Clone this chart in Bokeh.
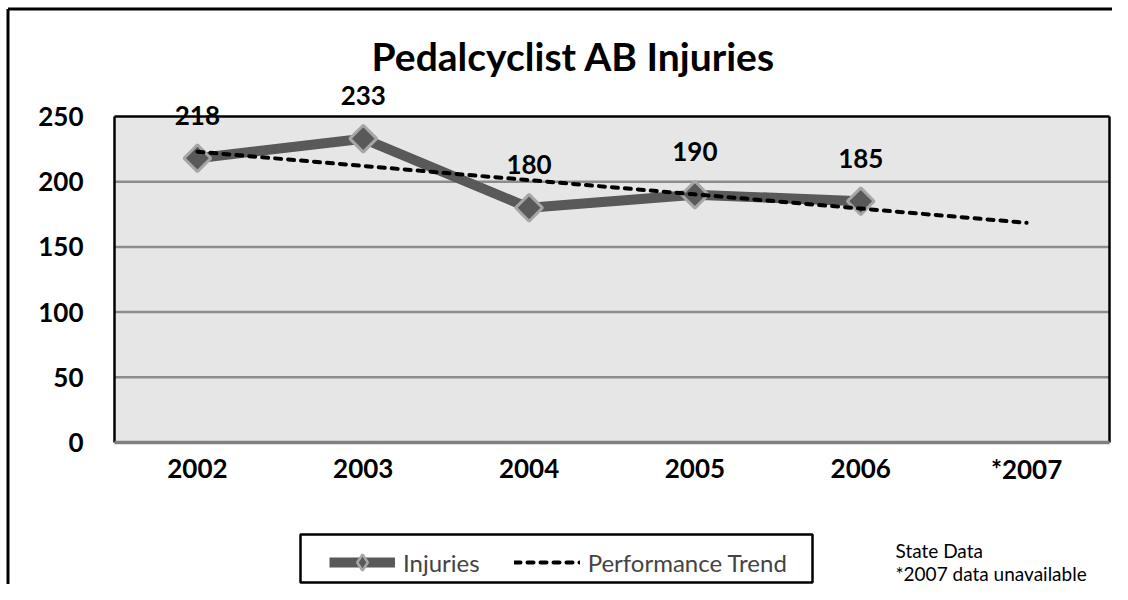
import math
from bokeh.plotting import figure
from bokeh.models import (ColumnDataSource, Range1d, LabelSet, Label,
                          Legend, LegendItem)
from bokeh.core.properties import value
from bokeh.embed import file_html
from bokeh.resources import INLINE

years = ["2002", "2003", "2004", "2005", "2006", "*2007"]
injury_years = ["2002", "2003", "2004", "2005", "2006"]
injuries = [218, 233, 180, 190, 185]
trend = [223.0, 212.1, 201.2, 190.3, 179.4, 168.5]
y_ticks = [0, 50, 100, 150, 200, 250]

FONT = "Lato"
W, H = 1112, 584
# plot area in canvas pixels
PL, PR, PT, PB = 114, 1109, 116, 442
YMAX = 250
n = len(years)
sx = (PR - PL) / n
sy = (PB - PT) / YMAX

p = figure(width=W, height=H, output_backend="svg", toolbar_location=None,
           x_range=Range1d(-PL / sx, n + (W - PR) / sx),
           y_range=Range1d(-(H - PB) / sy, YMAX + PT / sy),
           min_border=0)
p.axis.visible = False
p.grid.visible = False
p.outline_line_color = None
p.background_fill_color = "white"
p.border_fill_color = "white"

def xpos(cat):
    return years.index(cat) + 0.5

def px_to_x(px):
    return (px - PL) / sx

def py_to_y(py):
    return (PB - py) / sy

# plot area
p.quad(left=[0], right=[n], bottom=[0], top=[YMAX], fill_color="#e6e6e6", line_color=None)
grid = [t for t in y_ticks if 0 < t < YMAX]
p.segment(x0=[0] * len(grid), x1=[n] * len(grid), y0=grid, y1=grid,
          line_color="#8c8c8c", line_width=2.5)
# frame
p.segment(x0=[0, 0, n], x1=[n, 0, n], y0=[YMAX, 0, 0], y1=[YMAX, YMAX, YMAX],
          line_color="black", line_width=2.5)
p.segment(x0=[0], x1=[n], y0=[0], y1=[0], line_color="#808080", line_width=3.5)

# outer chart border (left and top visible)
bx, by = px_to_x(7.5), py_to_y(8.5)
p.segment(x0=[bx, bx], x1=[bx, px_to_x(W + 20)],
          y0=[by, by], y1=[py_to_y(H + 20), by],
          line_color="black", line_width=3)

# tick labels
ysrc = ColumnDataSource(dict(x=[px_to_x(83)] * len(y_ticks), y=y_ticks,
                             t=[str(v) for v in y_ticks]))
p.add_layout(LabelSet(x="x", y="y", text="t", source=ysrc, text_align="right",
                      text_baseline="middle", text_font=value(FONT),
                      text_font_style="bold", text_font_size="26px", text_color="black"))
xsrc = ColumnDataSource(dict(x=[xpos(c) for c in years], y=[py_to_y(468)] * n, t=years))
p.add_layout(LabelSet(x="x", y="y", text="t", source=xsrc, text_align="center",
                      text_baseline="middle", text_font=value(FONT),
                      text_font_style="bold", text_font_size="26px", text_color="black"))

src = ColumnDataSource(dict(x=[xpos(c) for c in injury_years], y=injuries,
                            t=[str(v) for v in injuries]))
tsrc = ColumnDataSource(dict(x=[xpos(c) for c in years], y=trend))

r_inj = p.line("x", "y", source=src, line_color="#595959", line_width=10)
r_mark = p.scatter("x", "y", source=src, marker="square", angle=math.pi / 4, size=19,
                   fill_color="#595959", line_color="#a6a6a6", line_width=3)
r_trend = p.line("x", "y", source=tsrc, line_color="black", line_width=4,
                 line_dash="6 7", line_cap="round")
# legend-only marker, placed far outside the visible range
r_legmark = p.scatter(x=[-1000], y=[-1000], marker="diamond", size=20,
                      fill_color="#595959", line_color="#a6a6a6", line_width=2.5)

p.add_layout(LabelSet(x="x", y="y", text="t", source=src, y_offset=43,
                      text_align="center", text_baseline="middle",
                      text_font=value(FONT), text_font_style="bold",
                      text_font_size="26px", text_color="black"))

p.add_layout(Label(x=px_to_x(573), y=py_to_y(55), text="Pedalcyclist AB Injuries",
                   text_align="center", text_baseline="middle",
                   text_font=FONT, text_font_style="bold",
                   text_font_size="39px", text_color="black"))

p.add_layout(Label(x=px_to_x(895), y=py_to_y(550), text="State Data", text_align="left",
                   text_baseline="middle", text_font=FONT,
                   text_font_size="19px", text_color="black"))
p.add_layout(Label(x=px_to_x(895), y=py_to_y(573), text="*2007 data unavailable",
                   text_align="left", text_baseline="middle", text_font=FONT,
                   text_font_size="19px", text_color="black"))

# legend box
p.quad(left=[px_to_x(300)], right=[px_to_x(812)], top=[py_to_y(534)],
       bottom=[py_to_y(582)], fill_color="white", line_color="black", line_width=2.5)

legend = Legend(items=[LegendItem(label="Injuries", renderers=[r_inj, r_legmark]),
                       LegendItem(label="Performance Trend", renderers=[r_trend])],
                orientation="horizontal", location=(329, 2),
                glyph_width=66, glyph_height=40, label_standoff=8, spacing=34,
                padding=4, margin=0,
                label_text_font=FONT, label_text_font_size="24px",
                border_line_color=None, background_fill_alpha=0)
p.add_layout(legend, "center")

open("out.html", "w").write(file_html(p, INLINE))
